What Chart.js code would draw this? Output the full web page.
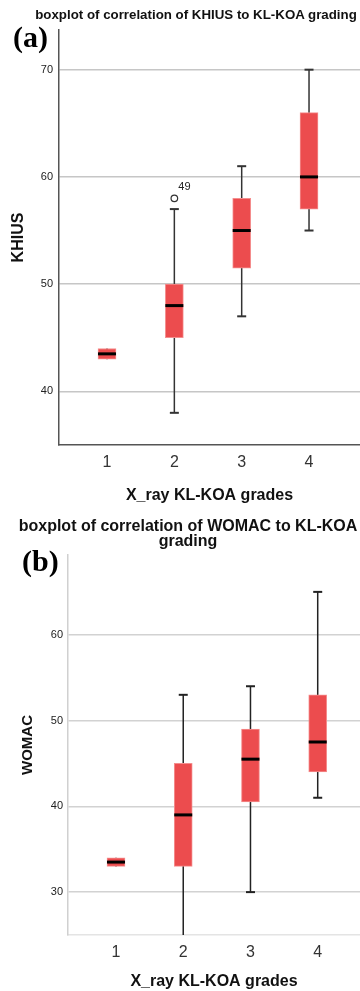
<!DOCTYPE html>
<html>
<head>
<meta charset="utf-8">
<script src="https://cdn.jsdelivr.net/npm/chart.js@4.4.1/dist/chart.umd.min.js"></script>
<style>
  html, body { margin: 0; padding: 0; background: #fff; width: 360px; height: 991px; overflow: hidden; position: relative; }
  .panel { position: absolute; left: 0; width: 360px; }
  .ttl { position: absolute; font: bold 13.3px "Liberation Sans", Arial, sans-serif; line-height: 15px; color: #111; white-space: nowrap; transform: translateX(-50%); text-align: center; }
  .tag { position: absolute; font: bold 30px "Liberation Serif", "Times New Roman", serif; line-height: 30px; color: #000; }
</style>
</head>
<body>
<div class="panel" style="top:0;height:505px"><canvas id="chartA"></canvas></div>
<div class="panel" style="top:500px;height:491px"><canvas id="chartB"></canvas></div>
<div class="ttl" style="left:196px;top:7px">boxplot of correlation of KHIUS to KL-KOA grading</div>
<div class="ttl" style="left:188px;top:518px;font-size:16px">boxplot of correlation of WOMAC to KL-KOA<br>grading</div>
<div class="tag" style="left:13px;top:22px">(a)</div>
<div class="tag" style="left:22px;top:546px">(b)</div>

<script>
// X_ray KL-KOA grades
const grades = [1, 2, 3, 4];

// (a) KHIUS
const khiusMin = [43, 38, 47, 55];
const khiusQ1 = [43, 45, 51.5, 57];
const khiusMedian = [43.5, 48, 55, 60];
const khiusQ3 = [44, 50, 58, 66];
const khiusMax = [44, 57, 61, 70];
const khiusOutliers = [{ x: 2, y: 58, label: "49" }];
const khiusTicks = [40, 50, 60, 70];

// (b) WOMAC
const womacMin = [33, 24, 30, 41];
const womacQ1 = [33, 33, 40.5, 44];
const womacMedian = [33.5, 39, 45.5, 47.5];
const womacQ3 = [34, 45, 49, 53];
const womacMax = [34, 53, 54, 65];
const womacOutliers = [];
const womacTicks = [30, 40, 50, 60];

Chart.defaults.font.family = '"Liberation Sans", Arial, sans-serif';
Chart.defaults.color = "#222";

const boxFill = "#ec4c4e";
const boxEdge = "#f48e8e";

// whiskers under the boxes, medians + outlier labels on top
const whiskerPlugin = {
  id: "whiskers",
  beforeDatasetsDraw(chart, args, opts) {
    const { ctx, chartArea, scales: { x, y } } = chart;
    ctx.save();
    ctx.beginPath();
    ctx.rect(chartArea.left, chartArea.top, chartArea.right - chartArea.left, chartArea.bottom - chartArea.top);
    ctx.clip();
    ctx.strokeStyle = opts.color;
    grades.forEach((g, i) => {
      const px = x.getPixelForValue(g);
      const lo = y.getPixelForValue(opts.min[i]);
      const hi = y.getPixelForValue(opts.max[i]);
      ctx.lineWidth = opts.width;
      ctx.beginPath();
      ctx.moveTo(px, lo);
      ctx.lineTo(px, hi);
      ctx.stroke();
      ctx.lineWidth = 2;
      if (opts.min[i] < opts.q1[i]) {
        ctx.beginPath(); ctx.moveTo(px - 4.5, lo); ctx.lineTo(px + 4.5, lo); ctx.stroke();
      }
      if (opts.max[i] > opts.q3[i]) {
        ctx.beginPath(); ctx.moveTo(px - 4.5, hi); ctx.lineTo(px + 4.5, hi); ctx.stroke();
      }
    });
    ctx.restore();
  },
  afterDatasetsDraw(chart, args, opts) {
    const { ctx, scales: { x, y } } = chart;
    ctx.save();
    ctx.strokeStyle = "#000";
    ctx.lineWidth = 3;
    grades.forEach((g, i) => {
      const px = x.getPixelForValue(g);
      const py = y.getPixelForValue(opts.median[i]);
      ctx.beginPath();
      ctx.moveTo(px - 9, py);
      ctx.lineTo(px + 9, py);
      ctx.stroke();
    });
    ctx.fillStyle = "#222";
    ctx.font = '11px "Liberation Sans", Arial, sans-serif';
    ctx.textAlign = "left";
    ctx.textBaseline = "middle";
    opts.outliers.forEach((o) => {
      ctx.fillText(o.label, x.getPixelForValue(o.x) + 4, y.getPixelForValue(o.y) - 11);
    });
    ctx.restore();
  }
};

function boxChart(id, d) {
  return new Chart(document.getElementById(id), {
    type: "bar",
    data: {
      datasets: [
        {
          type: "bar",
          data: grades.map((g, i) => ({ x: g, y: [d.q1[i], d.q3[i]] })),
          backgroundColor: boxFill,
          borderColor: boxEdge,
          borderWidth: 1,
          borderSkipped: false,
          barThickness: 18,
          order: 2
        },
        {
          type: "scatter",
          data: d.outliers.map((o) => ({ x: o.x, y: o.y })),
          pointRadius: 3.3,
          pointBackgroundColor: "#fff",
          pointBorderColor: "#333",
          pointBorderWidth: 1.2,
          order: 1
        }
      ]
    },
    options: {
      responsive: true,
      maintainAspectRatio: false,
      animation: false,
      layout: { autoPadding: false, padding: { top: d.top, right: 0, left: 0, bottom: 0 } },
      scales: {
        x: {
          type: "linear",
          offset: false,
          min: d.xMin,
          max: d.xMax,
          afterBuildTicks: (s) => { s.ticks = grades.map((v) => ({ value: v })); },
          afterFit: (s) => { s.height = d.xHeight; },
          grid: { display: false, drawTicks: false },
          border: { display: true, color: d.xBorder, width: 1.5 },
          ticks: { font: { size: 16 }, color: "#333", padding: 8, maxRotation: 0 },
          title: {
            display: true,
            text: "X_ray KL-KOA grades",
            font: { size: 16, weight: "bold" },
            color: "#111",
            padding: { top: 0, bottom: 0 }
          }
        },
        y: {
          min: d.yMin,
          max: d.yMax,
          afterBuildTicks: (s) => { s.ticks = d.ticks.map((v) => ({ value: v })); },
          afterFit: (s) => { s.width = d.yWidth; },
          grid: { color: d.gridColor, lineWidth: 1.5, drawTicks: false },
          border: { display: true, color: d.yBorder, width: 1.5 },
          ticks: { font: { size: 11 }, color: "#222", padding: d.tickPad },
          title: {
            display: true,
            text: d.yTitle,
            font: { size: d.yTitleSize, weight: "bold" },
            color: "#111",
            padding: { top: d.yTitlePad, bottom: 0 }
          }
        }
      },
      plugins: {
        legend: { display: false },
        tooltip: { enabled: false },
        title: { display: false },
        whiskers: {
          min: d.min, q1: d.q1, median: d.median, q3: d.q3, max: d.max,
          outliers: d.outliers, color: d.whiskerColor, width: 1.5
        }
      }
    },
    plugins: [whiskerPlugin]
  });
}

boxChart("chartA", {
  min: khiusMin, q1: khiusQ1, median: khiusMedian, q3: khiusQ3, max: khiusMax,
  outliers: khiusOutliers, ticks: khiusTicks,
  yMin: 35, yMax: 73.7, xMin: 0.287, xMax: 4.757,
  top: 30, xHeight: 60, yWidth: 59, tickPad: 6,
  yTitle: "KHIUS", yTitleSize: 16, yTitlePad: 9,
  gridColor: "#c6c6c6", xBorder: "#555", yBorder: "#555", whiskerColor: "#333"
});

boxChart("chartB", {
  min: womacMin, q1: womacQ1, median: womacMedian, q3: womacQ3, max: womacMax,
  outliers: womacOutliers, ticks: womacTicks,
  yMin: 25, yMax: 69.3, xMin: 0.286, xMax: 4.629,
  top: 55, xHeight: 56, yWidth: 68, tickPad: 5,
  yTitle: "WOMAC", yTitleSize: 15, yTitlePad: 19,
  gridColor: "#d2d2d2", xBorder: "#e4e4e4", yBorder: "#d0d0d0", whiskerColor: "#222"
});
</script>
</body>
</html>
